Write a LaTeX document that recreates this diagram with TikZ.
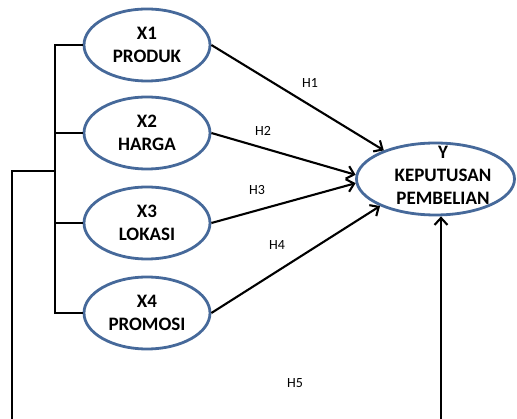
\documentclass[tikz,border=0pt]{standalone}
\usepackage{fontspec}
\setmainfont{Carlito}
\usetikzlibrary{shapes.geometric,arrows.meta}
\definecolor{ovalblue}{HTML}{46699A}

\tikzset{
  var/.style={ellipse, draw=ovalblue, line width=2.8pt, fill=white,
    minimum width=126pt, minimum height=72pt, inner sep=0pt, align=center,
    font=\bfseries\fontsize{19}{23}\selectfont},
  link/.style={line width=2.1pt},
  hyp/.style={link, -{Straight Barb[length=7pt,width=13pt]}},
  hlab/.style={font=\fontsize{14}{16}\selectfont}
}

\begin{document}
\begin{tikzpicture}[x=1pt, y=-1pt]
          \useasboundingbox (0,0) rectangle (517,419);
          \clip (0,0) rectangle (517,419);
          \node[var] (x1) at (147, 45) {X1\\PRODUK};
          \node[var] (x2) at (147, 133) {X2\\HARGA};
          \node[var] (x3) at (147, 223) {X3\\LOKASI};
          \node[var] (x4) at (147, 313) {X4\\PROMOSI};
          \node[var, minimum width=158pt] (y) at (435.5, 179) {};
          \node[align=center, font=\bfseries\fontsize{19}{23}\selectfont] (ylab) at (443, 175) {Y\\KEPUTUSAN\\PEMBELIAN};
          \coordinate (bus) at (55, 0);
          \coordinate (h5l) at (12, 171);
          \coordinate (h5lb) at (12, 419);
          \coordinate (h5rb) at (441, 419);
          \draw[link] (x1.west) -- (x1.west -| bus) -- (x4.west -| bus) -- (x4.west);
          \draw[link] (x2.west) -- (x2.west -| bus);
          \draw[link] (x3.west) -- (x3.west -| bus);
          \draw[link] (h5l -| bus) -- (h5l) -- (h5lb);
          \draw[hyp] (h5rb) -- (h5rb |- y.south);
          \draw[hyp] (x1.east) -- (y.151);
          \draw[hyp] (x2.east) -- (y.177);
          \draw[hyp] (x3.east) -- (y.183);
          \draw[hyp] (x4.east) -- (y.206);
          \node[hlab] (h1) at (310, 83) {H1};
          \node[hlab] (h2) at (263, 131) {H2};
          \node[hlab] (h3) at (257, 190) {H3};
          \node[hlab] (h4) at (277, 245) {H4};
          \node[hlab] (h5) at (295, 383) {H5};
    \end{tikzpicture}
\end{document}
